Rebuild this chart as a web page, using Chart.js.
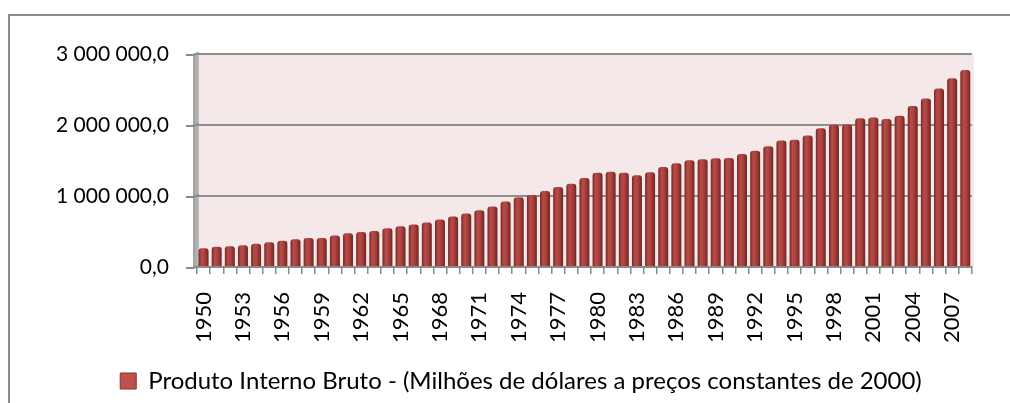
<!DOCTYPE html>
<html>
<head>
<meta charset="utf-8">
<script src="https://cdn.jsdelivr.net/npm/chart.js@4.4.1/dist/chart.umd.min.js"></script>
<style>
html,body{margin:0;padding:0;background:#fff;}
#wrap{width:1010px;height:403px;position:relative;}
</style>
</head>
<body>
<div id="wrap"><canvas id="c" width="1010" height="403"></canvas></div>
<script>
const years = ["1950","1951","1952","1953","1954","1955","1956","1957","1958","1959",
"1960","1961","1962","1963","1964","1965","1966","1967","1968","1969",
"1970","1971","1972","1973","1974","1975","1976","1977","1978","1979",
"1980","1981","1982","1983","1984","1985","1986","1987","1988","1989",
"1990","1991","1992","1993","1994","1995","1996","1997","1998","1999",
"2000","2001","2002","2003","2004","2005","2006","2007","2008"];

const pib = [265000,284000,293000,307000,326000,349000,368000,391000,410000,410000,
442000,475000,493000,507000,545000,573000,600000,628000,670000,712000,
754000,798000,852000,922000,982000,1015000,1071000,1127000,1173000,1253000,
1327000,1341000,1327000,1294000,1336000,1410000,1462000,1504000,1518000,1532000,
1536000,1592000,1638000,1699000,1783000,1792000,1853000,1955000,2002000,2006000,
2095000,2104000,2086000,2132000,2267000,2374000,2514000,2658000,2775000];

const yTicks = [0, 1000000, 2000000, 3000000];
const seriesName = "Produto Interno Bruto - (Milhões de dólares a preços constantes de 2000)";

function fmt(v){
  const s = Math.round(v).toString().replace(/\B(?=(\d{3})+(?!\d))/g, " ");
  return s + ",0";
}

const FONT = "Lato, 'Open Sans', sans-serif";

const decor = {
  id: 'decor',
  beforeDraw(chart){
    const ctx = chart.ctx, a = chart.chartArea;
    ctx.save();
    // outer border
    ctx.strokeStyle = '#8a8a8a';
    ctx.lineWidth = 2;
    ctx.strokeRect(9, 15, 1010, 400);
    // plot background
    ctx.fillStyle = '#f4e8e8';
    ctx.fillRect(a.left + 2, a.top, a.right - a.left, a.bottom - a.top);
    // left wall
    const g = ctx.createLinearGradient(a.left - 5, 0, a.left + 2, 0);
    g.addColorStop(0, '#9a9a9a');
    g.addColorStop(1, '#bdbdbd');
    ctx.fillStyle = g;
    ctx.fillRect(a.left - 4, a.top, 6, a.bottom - a.top);
    // y tick marks
    const ys = chart.scales.y;
    ctx.strokeStyle = '#8a8a8a';
    ctx.lineWidth = 2;
    yTicks.forEach(v => {
      const y = ys.getPixelForValue(v);
      ctx.beginPath();
      ctx.moveTo(a.left - 11, y + 1);
      ctx.lineTo(a.left - 4, y + 1);
      ctx.lineTo(a.left + 2, y - 1);
      ctx.stroke();
    });
    ctx.restore();
  }
};

const ctx = document.getElementById('c').getContext('2d');
new Chart(ctx, {
  type: 'bar',
  data: {
    labels: years,
    datasets: [{
      label: seriesName,
      data: pib,
      backgroundColor: (c) => {
        const chart = c.chart;
        if (!chart.chartArea || c.type !== 'data') return '#a13c39';
        const xs = chart.scales.x;
        const x = xs.getPixelForValue(c.dataIndex);
        const w = 10;
        const g = chart.ctx.createLinearGradient(x - w/2, 0, x + w/2, 0);
        g.addColorStop(0, '#772624');
        g.addColorStop(0.3, '#b84b48');
        g.addColorStop(0.55, '#ad4441');
        g.addColorStop(1, '#722523');
        return g;
      },
      borderWidth: 0,
      borderRadius: {topLeft: 3, topRight: 3, bottomLeft: 0, bottomRight: 0},
      borderSkipped: false,
      barPercentage: 0.76,
      categoryPercentage: 1.0
    }]
  },
  options: {
    responsive: false,
    animation: false,
    devicePixelRatio: 1,
    layout: { padding: { top: 54, right: 0, left: 32, bottom: 0 } },
    plugins: {
      legend: {
        position: 'bottom',
        labels: {
          color: '#000',
          font: { family: FONT, size: 24 },
          boxWidth: 16, boxHeight: 16,
          padding: 8,
          generateLabels: (chart) => [{
            text: seriesName,
            fillStyle: '#c0504d',
            strokeStyle: '#8a302d',
            lineWidth: 1,
            datasetIndex: 0,
            hidden: false
          }]
        }
      },
      tooltip: { enabled: false }
    },
    scales: {
      x: {
        offset: true,
        afterFit: (s) => { s.height = 94; },
        grid: {
          display: true, drawOnChartArea: false, drawTicks: true,
          tickLength: 7, color: '#8a8a8a', lineWidth: 1.5, offset: true
        },
        border: { display: true, color: '#8a8a8a', width: 2 },
        ticks: {
          autoSkip: false, minRotation: 90, maxRotation: 90,
          padding: 18, color: '#000',
          font: { family: FONT, size: 22 },
          callback: function(v, i){ return i % 3 === 0 ? years[i] : ''; }
        }
      },
      y: {
        min: 0, max: 3000000,
        afterFit: (s) => { s.width = 165; },
        afterBuildTicks: (s) => { s.ticks = yTicks.map(v => ({value: v})); },
        grid: {
          color: '#8e8e8e', lineWidth: 2, drawTicks: false
        },
        border: { display: false },
        ticks: {
          padding: 28, color: '#000',
          font: { family: FONT, size: 21 },
          callback: (v) => fmt(v)
        }
      },
      y2: {
        position: 'right',
        display: true,
        min: 0, max: 1,
        afterFit: (s) => { s.width = 37; },
        grid: { drawOnChartArea: false, drawTicks: false },
        border: { display: false },
        ticks: { display: false }
      }
    }
  },
  plugins: [decor]
});
</script>
</body>
</html>
